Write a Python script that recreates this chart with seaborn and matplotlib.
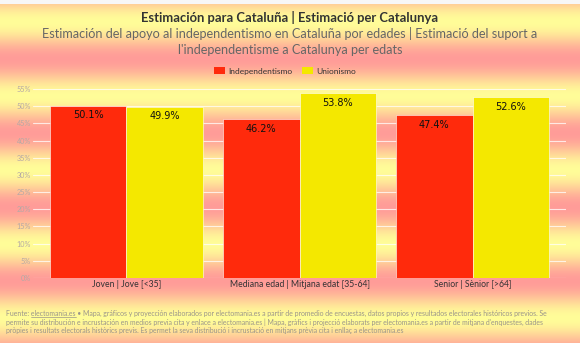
import numpy as np
import pandas as pd
import matplotlib
matplotlib.use("Agg")
import matplotlib.pyplot as plt
from matplotlib.patches import Patch
import seaborn as sns

# ---------------- data ----------------
categories = ["Joven | Jove [<35]", "Mediana edad | Mitjana edat [35-64]", "Senior | Sènior [>64]"]
series = ["Independentismo", "Unionismo"]
independentismo = [50.1, 46.2, 47.4]
unionismo = [49.9, 53.8, 52.6]
yticks = [0, 5, 10, 15, 20, 25, 30, 35, 40, 45, 50, 55]
ytick_labels = [f"{t}%" for t in yticks]
colors = ["#ff2a0c", "#f4e800"]

title = "Estimación para Cataluña | Estimació per Catalunya"
subtitle_1 = "Estimación del apoyo al independentismo en Cataluña por edades | Estimació del suport a"
subtitle_2 = "l'independentisme a Catalunya per edats"
footer_lines = [
    "Fuente: electomania.es • Mapa, gráficos y proyección elaborados por electomania.es a partir de promedio de encuestas, datos propios y resultados electorales históricos previos. Se",
    "permite su distribución e incrustación en medios previa cita y enlace a electomania.es | Mapa, gràfics i projecció elaborats per electomania.es a partir de mitjana d'enquestes, dades",
    "pròpies i resultats electorals històrics previs. Es permet la seva distribució i incrustació en mitjans prèvia cita i enllaç a electomania.es",
]

df = pd.DataFrame({
    "grupo": categories * 2,
    "serie": [series[0]] * len(categories) + [series[1]] * len(categories),
    "valor": independentismo + unionismo,
})

sns.set_theme(style="white")
plt.rcParams["font.family"] = ["Lato", "DejaVu Sans"]

W, H = 580, 343
fig = plt.figure(figsize=(W / 100, H / 100), dpi=100)
renderer = fig.canvas.get_renderer()

# ---------------- striped background ----------------
bg = fig.add_axes([0, 0, 1, 1], zorder=-10)
ypix = np.arange(H) + 0.5
s = 0.5 * (1 + np.cos(2 * np.pi * (ypix - 22) / 74.0))
yellow = np.array([255, 253, 153]) / 255
pink = np.array([255, 156, 152]) / 255
img = pink[None, :] * (1 - s[:, None]) + yellow[None, :] * s[:, None]
img = np.repeat(img[:, None, :], W, axis=1)
img[:4] = 0.97
bg.imshow(img, aspect="auto", extent=[0, W, H, 0], interpolation="bilinear")
bg.set_xlim(0, W)
bg.set_ylim(H, 0)
bg.axis("off")

# ---------------- main chart ----------------
ax = fig.add_axes([33 / W, 1 - 278 / H, (566 - 33) / W, (278 - 89) / H])
ax.patch.set_alpha(0)
sns.barplot(data=df, x="grupo", y="valor", hue="serie", hue_order=series, order=categories,
            palette=colors, saturation=1, width=0.885, edgecolor=(1, 1, 1, 0.55),
            linewidth=0.7, ax=ax, legend=False, zorder=3)
ax.set_xlim(-0.54, 2.54)
ax.set_ylim(0, 55)
ax.set_yticks(yticks)
ax.set_yticklabels(ytick_labels)
ax.set_xlabel("")
ax.set_ylabel("")
for sp in ax.spines.values():
    sp.set_visible(False)
ax.grid(axis="y", color="white", alpha=0.75, linewidth=0.8, zorder=0)
ax.set_axisbelow(True)
ax.tick_params(axis="y", length=0, pad=1.5, labelsize=5.2, labelcolor="#b5a9a5")
ax.tick_params(axis="x", length=0, pad=1.5, labelsize=7.5, labelcolor="#333333")

for cont in ax.containers:
    ax.bar_label(cont, labels=[f"{v:.1f}%" for v in cont.datavalues], padding=-10.5,
                 fontsize=7, color="#111111", family="DejaVu Sans")


def fit(t, target):
    w = t.get_window_extent(renderer).width
    t.set_fontsize(t.get_fontsize() * target / w)
    return t


# fit x tick label size
fig.canvas.draw()
lbl = ax.get_xticklabels()[0]
sz = lbl.get_fontsize() * 69 / lbl.get_window_extent(renderer).width
ax.tick_params(axis="x", labelsize=sz)

# ---------------- titles ----------------
t = fig.text(0.5, 1 - 18 / H, title, ha="center", va="center", fontsize=9,
             fontweight="bold", color="#333333")
fit(t, 296)
s1 = fig.text(0.5, 1 - 33 / H, subtitle_1, ha="center", va="center", fontsize=9, color="#666666")
fit(s1, 494)
fig.text(0.5, 1 - 50 / H, subtitle_2, ha="center", va="center", fontsize=s1.get_fontsize(),
         color="#666666")

# ---------------- legend ----------------
handles = [Patch(facecolor=c, edgecolor="none") for c in colors]
fig.legend(handles, series, loc="center", bbox_to_anchor=(285 / W, 1 - 71 / H), ncol=2,
           frameon=False, fontsize=6, handlelength=1.4, handleheight=0.85,
           handletextpad=0.36, columnspacing=1.1, labelcolor="#333333",
           borderaxespad=0, borderpad=0)

# ---------------- footer ----------------
fy = [313, 322, 331]
ft = fig.text(6 / W, 1 - fy[0] / H, footer_lines[0], ha="left", va="center", fontsize=6,
              color="#9a948a")
fit(ft, 546)
fsz = ft.get_fontsize()
for line, y in zip(footer_lines[1:], fy[1:]):
    fig.text(6 / W, 1 - y / H, line, ha="left", va="center", fontsize=fsz, color="#9a948a")

# underline "electomania.es" in the first footer line
def text_width(s_):
    tt = fig.text(0, 0, s_, fontsize=fsz)
    w = tt.get_window_extent(renderer).width
    tt.remove()
    return w

w_full = text_width("Fuente: electomania.es")
w_word = text_width("electomania.es")
x0 = 6 + w_full - w_word
x1 = 6 + w_full
bg.plot([x0, x1], [fy[0] + 3.6, fy[0] + 3.6], color="#9a948a", linewidth=0.5)

fig.savefig("out.png", dpi=100)
